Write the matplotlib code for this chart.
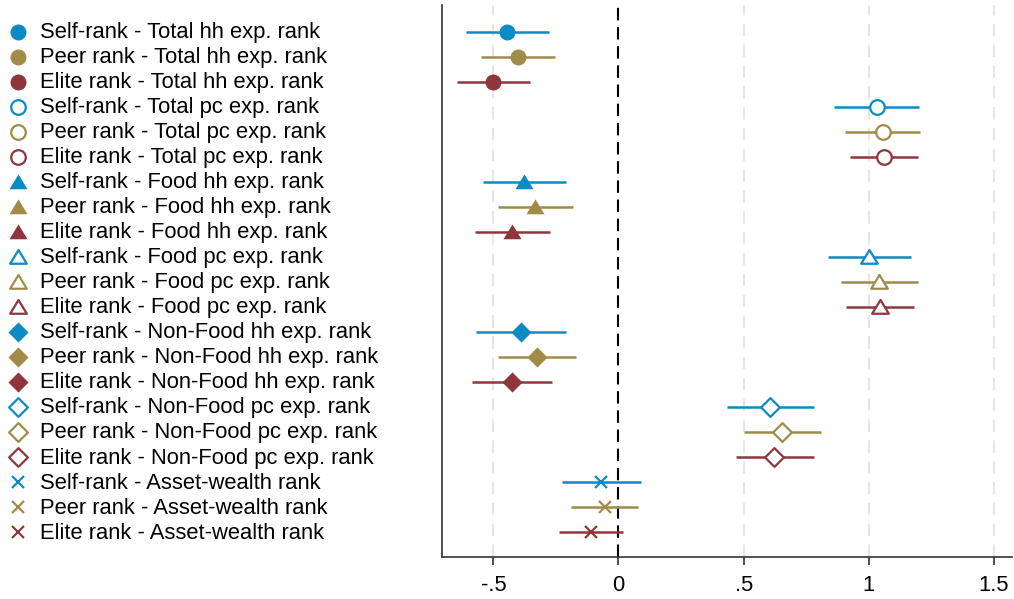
import matplotlib
matplotlib.use("Agg")
import matplotlib.pyplot as plt
import matplotlib.transforms as mtransforms
from matplotlib.path import Path

plt.rcParams['font.family'] = ['Liberation Sans', 'DejaVu Sans']

# rank measures and the three respondent types
measures = ["Total hh exp. rank", "Total pc exp. rank",
            "Food hh exp. rank", "Food pc exp. rank",
            "Non-Food hh exp. rank", "Non-Food pc exp. rank",
            "Asset-wealth rank"]
raters = ["Self-rank", "Peer rank", "Elite rank"]

# point estimates, one row per rater x measure (top to bottom)
estimates = [-0.445, -0.401, -0.500,
             1.031, 1.055, 1.061,
             -0.376, -0.333, -0.425,
             1.002, 1.041, 1.045,
             -0.390, -0.327, -0.425,
             0.606, 0.655, 0.623,
             -0.068, -0.055, -0.110]
ci_low = [-0.609, -0.548, -0.645,
          0.862, 0.906, 0.926,
          -0.541, -0.482, -0.573,
          0.838, 0.888, 0.909,
          -0.568, -0.482, -0.585,
          0.435, 0.502, 0.469,
          -0.225, -0.191, -0.239]
ci_high = [-0.279, -0.255, -0.352,
           1.200, 1.205, 1.195,
           -0.209, -0.182, -0.275,
           1.168, 1.195, 1.181,
           -0.210, -0.171, -0.265,
           0.783, 0.809, 0.783,
           0.089, 0.078, 0.018]

xticks = [-0.5, 0, 0.5, 1, 1.5]
xtick_labels = ["-.5", "0", ".5", "1", "1.5"]

colors = ["#0C8AC3", "#A08B47", "#8F363C"]

# wide triangle and square-ish diamond shapes
tri = Path([(0, 0.9), (-1, -0.75), (1, -0.75), (0, 0.9)],
           [Path.MOVETO, Path.LINETO, Path.LINETO, Path.CLOSEPOLY])
dia = Path([(0, 1), (1, 0), (0, -1), (-1, 0), (0, 1)],
           [Path.MOVETO, Path.LINETO, Path.LINETO, Path.LINETO, Path.CLOSEPOLY])

# marker, size, filled
marker_styles = [("o", 11.5, True), ("o", 10.5, False),
                 (tri, 13, True), (tri, 12, False),
                 (dia, 14.5, True), (dia, 13.5, False),
                 ("x", 8, True)]

fig = plt.figure(figsize=(10.14, 5.99), dpi=100)
ax = fig.add_axes([442 / 1014, 0.0696, 570 / 1014, 0.922])

W = 1014
blend = mtransforms.blended_transform_factory(fig.transFigure, ax.transData)

for g, measure in enumerate(measures):
    marker, ms, filled = marker_styles[g]
    for r, rater in enumerate(raters):
        i = g * 3 + r
        row = i + 1
        c = colors[r]
        ax.plot([ci_low[i], ci_high[i]], [row, row], color=c, lw=1.8,
                solid_capstyle="butt", zorder=3)
        kw = dict(marker=marker, markersize=ms, linestyle="none", zorder=4)
        if isinstance(marker, str) and marker == "x":
            kw.update(color=c, markeredgewidth=1.6)
        elif filled:
            kw.update(color=c, markeredgewidth=0)
        else:
            kw.update(markerfacecolor="white", markeredgecolor=c,
                      markeredgewidth=1.6)
        ax.plot([estimates[i]], [row], **kw)
        # key on the left
        ax.plot([18 / W], [row], transform=blend, clip_on=False, **kw)
        ax.text(40 / W, row + 0.03, f"{rater} - {measure}", transform=blend,
                ha="left", va="center", fontsize=15.8, color="black")

# reference line at zero and light grid
for xt in xticks:
    if xt == 0:
        continue
    ax.axvline(xt, color="#e6e6e6", lw=1.5, dashes=(6, 4), zorder=1)
ax.axvline(0, color="black", lw=1.5, dashes=(6, 3.2), zorder=2)

ax.set_xlim(-0.705, 1.572)
ax.set_ylim(22.0, -0.08)
ax.set_yticks([])
ax.set_xticks(xticks)
ax.set_xticklabels(xtick_labels, fontsize=15.8)
ax.tick_params(axis="x", length=6, width=1.2, color="#333333", pad=7)

for side in ["top", "right"]:
    ax.spines[side].set_visible(False)
for side in ["left", "bottom"]:
    ax.spines[side].set_color("#333333")
    ax.spines[side].set_linewidth(1.2)

fig.savefig("out.png", dpi=100)
